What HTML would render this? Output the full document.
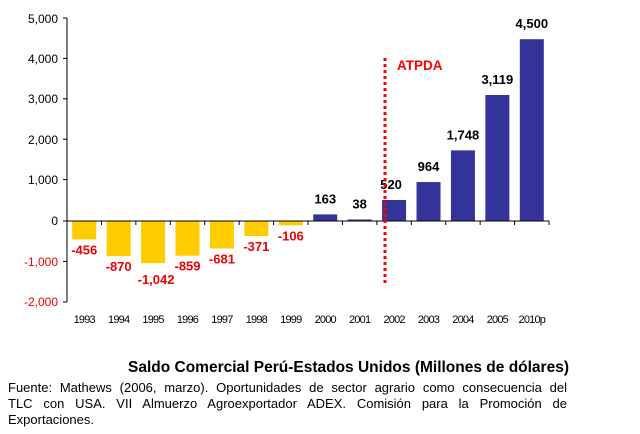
<!DOCTYPE html>
<html><head><meta charset="utf-8"><style>
body{margin:0;background:#fff;width:640px;height:434px;overflow:hidden}
svg text{font-family:"Liberation Sans",Arial,sans-serif}
.t{position:absolute;font-family:"Liberation Sans",Arial,sans-serif;font-size:13px;color:#000;line-height:16px;white-space:nowrap}
.j{width:559px;text-align:justify;text-align-last:justify}
</style></head><body>
<svg width="640" height="434" style="position:absolute;left:0;top:0">
<g id="bars"></g>
<line x1="67" y1="18" x2="67" y2="302" stroke="#000" stroke-width="1"/>
<line x1="67" y1="221" x2="549" y2="221" stroke="#000" stroke-width="1"/>
<g stroke="#000">
<line x1="63" y1="18" x2="67" y2="18"/><line x1="63" y1="58.4" x2="67" y2="58.4"/><line x1="63" y1="98.8" x2="67" y2="98.8"/><line x1="63" y1="139.2" x2="67" y2="139.2"/><line x1="63" y1="179.6" x2="67" y2="179.6"/><line x1="63" y1="221" x2="67" y2="221"/><line x1="63" y1="261.4" x2="67" y2="261.4"/><line x1="63" y1="302" x2="67" y2="302"/>
</g>
<g font-size="12" text-anchor="end">
<text x="58" y="23">5,000</text><text x="58" y="63">4,000</text><text x="58" y="103">3,000</text><text x="58" y="144">2,000</text><text x="58" y="184">1,000</text><text x="58" y="225">0</text>
<text x="58" y="266" fill="#e00">-1,000</text><text x="58" y="306" fill="#e00">-2,000</text>
</g>
<g id="ticks" stroke="#000"></g>
<g id="lab" font-size="11" text-anchor="middle" letter-spacing="-0.8"></g>
<g id="val" font-size="13" font-weight="bold" text-anchor="middle"></g>
<line x1="385" y1="58" x2="385" y2="284" stroke="#f00" stroke-width="3" stroke-dasharray="3,3"/>
<text x="397" y="70" fill="#f00" font-size="13.5" font-weight="bold">ATPDA</text>
</svg>
<div class="t" style="left:128px;top:359px;font-size:15.5px;font-weight:bold;line-height:18px">Saldo Comercial Perú-Estados Unidos (Millones de dólares)</div>
<div class="t j" style="left:8px;top:380px">Fuente: Mathews (2006, marzo). Oportunidades de sector agrario como consecuencia del</div>
<div class="t j" style="left:8px;top:396px">TLC con USA. VII Almuerzo Agroexportador ADEX. Comisión para la Promoción de</div>
<div class="t" style="left:8px;top:412px">Exportaciones.</div>
<script>
var d=[-456,-870,-1042,-859,-681,-371,-106,163,38,520,964,1748,3119,4500];
var l=["1993","1994","1995","1996","1997","1998","1999","2000","2001","2002","2003","2004","2005","2010p"];
var ns="http://www.w3.org/2000/svg",s=34.43,z=221,k=0.0404;
function el(t,a,p,tx){var e=document.createElementNS(ns,t);for(var i in a)e.setAttribute(i,a[i]);if(tx)e.textContent=tx;document.getElementById(p).appendChild(e);}
for(var i=0;i<14;i++){var c=67+s*(i+0.5),v=d[i],h=Math.abs(v)*k;
el("rect",{x:c-12,y:v>0?z-h:z,width:24,height:h,fill:v>0?"#333399":"#FFCC00"},"bars");
el("line",{x1:67+s*(i+1),y1:z,x2:67+s*(i+1),y2:z+4},"ticks");
el("text",{x:c,y:323},"lab",l[i]);
var str=v.toLocaleString("en-US");
if(v>0)el("text",{x:c+(i==9?-3:0),y:z-h-11},"val",str);
else el("text",{x:c+(i==2?3:0),y:z+h+(i==2?21:15),fill:"#e00"},"val",str);}
</script>
</body></html>
